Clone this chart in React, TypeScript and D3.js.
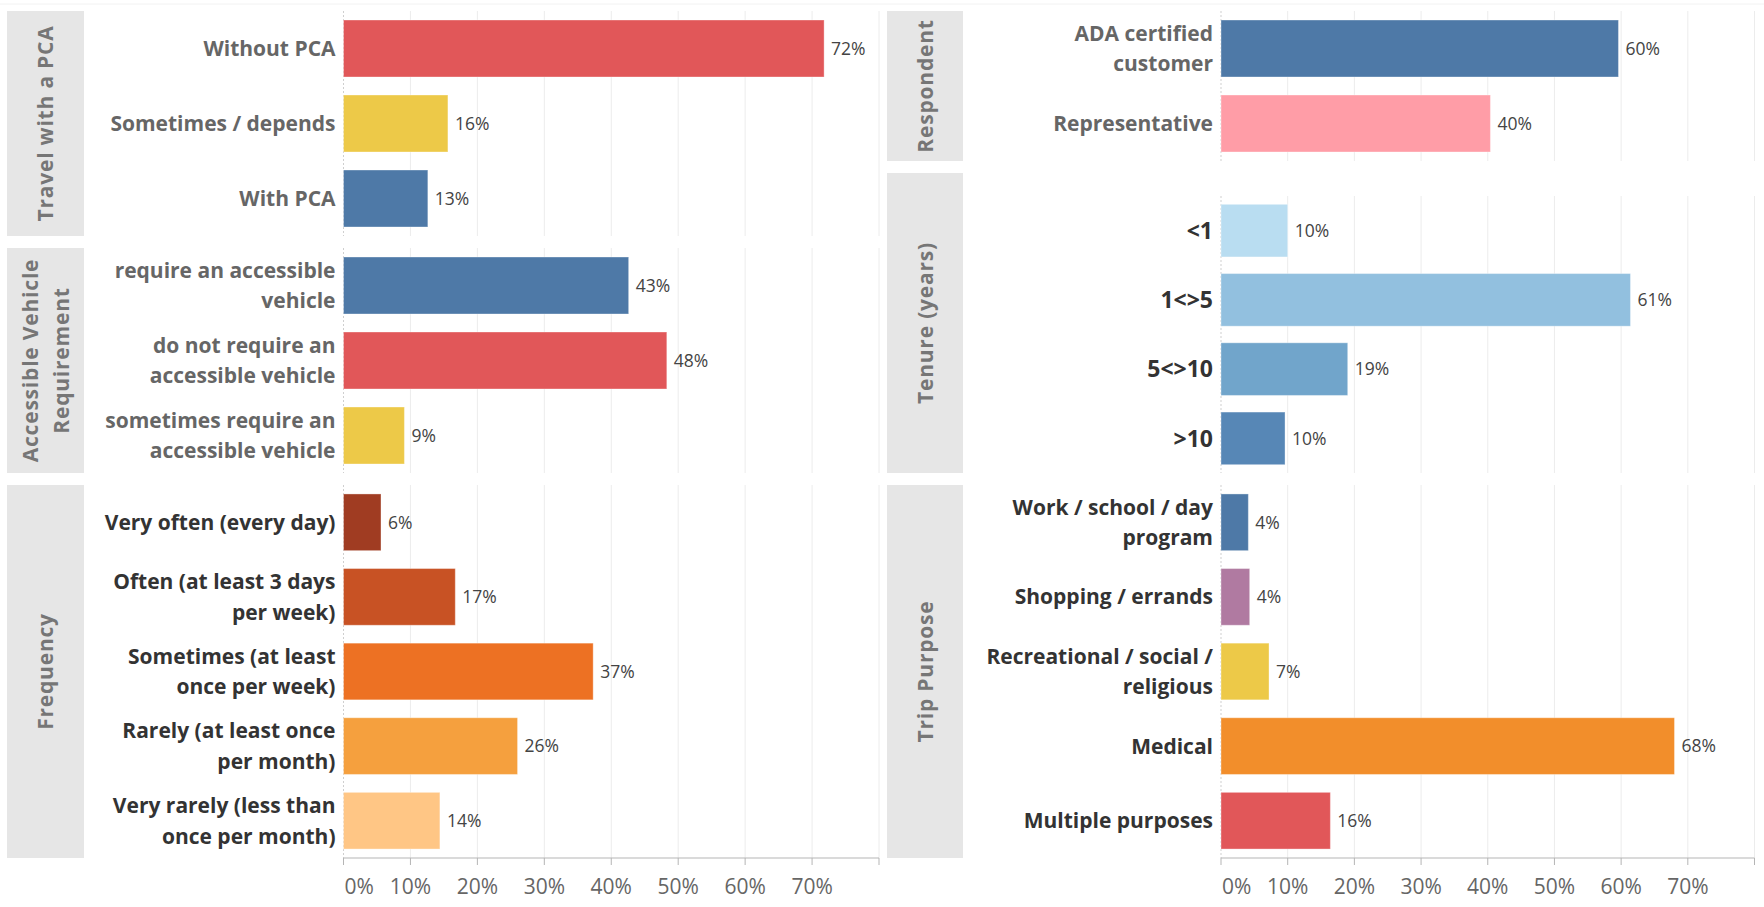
import React, { useEffect } from "react";
import * as d3 from "d3";

// ---------- DATA ----------
const pcaCategories = ["Without PCA", "Sometimes / depends", "With PCA"];
const pcaValues = [0.718, 0.156, 0.126];
const pcaColors = ["#e15759", "#edc948", "#4e79a7"];

const vehicleCategories = [
  "require an accessible\nvehicle",
  "do not require an\naccessible vehicle",
  "sometimes require an\naccessible vehicle",
];
const vehicleValues = [0.426, 0.483, 0.091];
const vehicleColors = ["#4e79a7", "#e15759", "#edc948"];

const frequencyCategories = [
  "Very often (every day)",
  "Often (at least 3 days\nper week)",
  "Sometimes (at least\nonce per week)",
  "Rarely (at least once\nper month)",
  "Very rarely (less than\nonce per month)",
];
const frequencyValues = [0.056, 0.167, 0.373, 0.26, 0.144];
const frequencyColors = ["#a03c22", "#c85224", "#ed7123", "#f5a03e", "#ffc685"];

const respondentCategories = ["ADA certified\ncustomer", "Representative"];
const respondentValues = [0.596, 0.404];
const respondentColors = ["#4e79a7", "#ff9da7"];

const tenureCategories = ["<1", "1<>5", "5<>10", ">10"];
const tenureValues = [0.1, 0.614, 0.19, 0.096];
const tenureColors = ["#b9ddf1", "#92c0df", "#71a5cb", "#5787b6"];

const tripCategories = [
  "Work / school / day\nprogram",
  "Shopping / errands",
  "Recreational / social /\nreligious",
  "Medical",
  "Multiple purposes",
];
const tripValues = [0.041, 0.043, 0.072, 0.68, 0.164];
const tripColors = ["#4e79a7", "#b07aa1", "#edc948", "#f28e2b", "#e15759"];

const axisTicks = [0, 0.1, 0.2, 0.3, 0.4, 0.5, 0.6, 0.7];
const axisMax = 0.8;

const panelTitles = [
  "Travel with a PCA",
  "Accessible Vehicle\nRequirement",
  "Frequency",
  "Respondent",
  "Tenure (years)",
  "Trip Purpose",
];

// ---------- LAYOUT ----------
const W = 1764;
const H = 907;
const FONT = "'Open Sans', 'DejaVu Sans', sans-serif";
const pct = d3.format(".0%");

type PanelDef = {
  title: string;
  cats: string[];
  vals: number[];
  colors: string[];
  boxY: [number, number];
  plotY: [number, number];
  labelColor: string;
  labelSize: number;
};

function Column({
  panels,
  boxX,
  x0,
  x1,
  axisY,
}: {
  panels: PanelDef[];
  boxX: [number, number];
  x0: number;
  x1: number;
  axisY: number;
}) {
  const x = d3.scaleLinear().domain([0, axisMax]).range([x0, x1]);
  const gridVals = d3.range(1, 9).map((i) => i / 10);
  return (
    <g>
      {panels.map((p, pi) => {
        const y = d3
          .scaleBand<string>()
          .domain(p.cats)
          .range(p.plotY)
          .paddingInner(0.24)
          .paddingOuter(0.12);
        const titleLines = p.title.split("\n");
        const cx = (boxX[0] + boxX[1]) / 2;
        const cy = (p.boxY[0] + p.boxY[1]) / 2;
        const tLH = 31;
        return (
          <g key={pi}>
            <rect
              x={boxX[0]}
              y={p.boxY[0]}
              width={boxX[1] - boxX[0]}
              height={p.boxY[1] - p.boxY[0]}
              fill="#e6e6e6"
            />
            <text
              transform={`translate(${cx},${cy}) rotate(-90)`}
              textAnchor="middle"
              fontFamily={FONT}
              fontWeight={700}
              fontSize={21}
              letterSpacing={0.8}
              fill="#767676"
            >
              {titleLines.map((t, i) => (
                <tspan
                  key={i}
                  x={0}
                  y={(i - (titleLines.length - 1) / 2) * tLH}
                  dy="0.36em"
                >
                  {t}
                </tspan>
              ))}
            </text>
            {gridVals.map((g) => (
              <line
                key={g}
                x1={x(g)}
                x2={x(g)}
                y1={p.plotY[0]}
                y2={p.plotY[1]}
                stroke="#ececec"
                strokeWidth={1}
              />
            ))}
            <line
              x1={x(0)}
              x2={x(0)}
              y1={p.plotY[0]}
              y2={p.plotY[1]}
              stroke="#cfcfcf"
              strokeDasharray="2,2"
              strokeWidth={1}
            />
            {p.cats.map((c, i) => {
              const by = y(c) as number;
              const bw = y.bandwidth();
              const lines = c.split("\n");
              const mid = by + bw / 2;
              const lh = 30.5;
              return (
                <g key={c}>
                  <rect
                    x={x(0)}
                    y={by}
                    width={x(p.vals[i]) - x(0)}
                    height={bw}
                    fill={p.colors[i]}
                    stroke="#ffffff"
                    strokeOpacity={0.35}
                    strokeWidth={1}
                  />
                  <text
                    x={x(p.vals[i]) + 7}
                    y={mid}
                    dy="0.36em"
                    fontFamily={FONT}
                    fontSize={17.5}
                    fill="#444"
                  >
                    {pct(p.vals[i])}
                  </text>
                  <text
                    textAnchor="end"
                    fontFamily={FONT}
                    fontWeight={700}
                    fontSize={p.labelSize}
                    fill={p.labelColor}
                  >
                    {lines.map((t, li) => (
                      <tspan
                        key={li}
                        x={x(0) - 8}
                        y={mid + (li - (lines.length - 1) / 2) * lh}
                        dy="0.36em"
                      >
                        {t}
                      </tspan>
                    ))}
                  </text>
                </g>
              );
            })}
          </g>
        );
      })}
      {/* bottom axis */}
      <line x1={x(0)} x2={x(axisMax)} y1={axisY} y2={axisY} stroke="#b5b5b5" />
      {[...axisTicks, axisMax].map((t) => (
        <line
          key={t}
          x1={x(t)}
          x2={x(t)}
          y1={axisY}
          y2={axisY + 7}
          stroke="#b5b5b5"
        />
      ))}
      {axisTicks.map((t) => (
        <text
          key={t}
          x={t === 0 ? x(t) + 1 : x(t)}
          y={axisY + 28}
          dy="0.36em"
          textAnchor={t === 0 ? "start" : "middle"}
          fontFamily={FONT}
          fontSize={21}
          fill="#666"
        >
          {pct(t)}
        </text>
      ))}
    </g>
  );
}

export default function App() {
  useEffect(() => {
    document.body.style.margin = "0";
    document.body.style.overflow = "hidden";
  }, []);

  const gray = "#666666";
  const dark = "#333333";

  const left: PanelDef[] = [
    {
      title: panelTitles[0],
      cats: pcaCategories,
      vals: pcaValues,
      colors: pcaColors,
      boxY: [11, 236],
      plotY: [11, 236],
      labelColor: gray,
      labelSize: 21,
    },
    {
      title: panelTitles[1],
      cats: vehicleCategories,
      vals: vehicleValues,
      colors: vehicleColors,
      boxY: [248, 473],
      plotY: [248, 473],
      labelColor: gray,
      labelSize: 21,
    },
    {
      title: panelTitles[2],
      cats: frequencyCategories,
      vals: frequencyValues,
      colors: frequencyColors,
      boxY: [485, 858],
      plotY: [485, 858],
      labelColor: dark,
      labelSize: 21,
    },
  ];
  const right: PanelDef[] = [
    {
      title: panelTitles[3],
      cats: respondentCategories,
      vals: respondentValues,
      colors: respondentColors,
      boxY: [11, 161],
      plotY: [11, 161],
      labelColor: gray,
      labelSize: 21,
    },
    {
      title: panelTitles[4],
      cats: tenureCategories,
      vals: tenureValues,
      colors: tenureColors,
      boxY: [173, 473],
      plotY: [196, 473],
      labelColor: dark,
      labelSize: 23,
    },
    {
      title: panelTitles[5],
      cats: tripCategories,
      vals: tripValues,
      colors: tripColors,
      boxY: [485, 858],
      plotY: [485, 858],
      labelColor: dark,
      labelSize: 21,
    },
  ];

  return (
    <svg
      width={W}
      height={H}
      style={{ position: "absolute", left: 0, top: 0, display: "block", background: "#fff" }}
    >
      <rect width={W} height={H} fill="#fff" />
      <line x1={0} x2={W} y1={4} y2={4} stroke="#f2f2f2" />
      <Column panels={left} boxX={[7, 84]} x0={343.5} x1={879} axisY={858} />
      <Column panels={right} boxX={[887, 963]} x0={1221} x1={1754.5} axisY={858} />
    </svg>
  );
}
